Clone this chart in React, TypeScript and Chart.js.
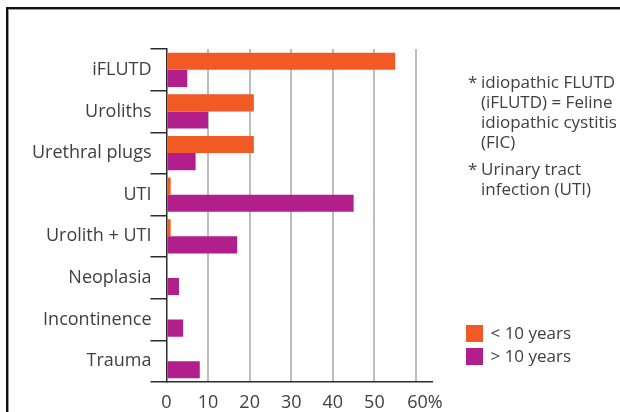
import React, { useEffect, useRef } from "react";
import { Chart, registerables } from "chart.js";
Chart.register(...registerables);

const categories = ["iFLUTD", "Uroliths", "Urethral plugs", "UTI", "Urolith + UTI", "Neoplasia", "Incontinence", "Trauma"];
const under10 = [55, 21, 21, 1, 1, 0, 0, 0];
const over10 = [5, 10, 7, 45, 17, 3, 4, 8];
const seriesNames = ["< 10 years", "> 10 years"];
const seriesColors = ["#F15A24", "#B31E8D"];
const xTicks = [0, 10, 20, 30, 40, 50, 60];
const xTickLabels = ["0", "10", "20", "30", "40", "50", "\u200360%"];
const note1 = ["idiopathic FLUTD", "(iFLUTD) = Feline", "idiopathic cystitis", "(FIC)"];
const note2 = ["Urinary tract", "infection (UTI)"];

const FONT = "'Open Sans', 'Noto Sans', sans-serif";
const TEXT = "#404040";

export default function App() {
  const ref = useRef<HTMLCanvasElement | null>(null);
  useEffect(() => {
    if (!ref.current) return;
    Chart.defaults.font.family = FONT;
    const chart = new Chart(ref.current, {
      type: "bar",
      data: {
        labels: categories,
        datasets: [
          { label: seriesNames[0], data: under10, backgroundColor: seriesColors[0], borderWidth: 0 },
          { label: seriesNames[1], data: over10, backgroundColor: seriesColors[1], borderWidth: 0 },
        ],
      },
      options: {
        indexAxis: "y",
        animation: false,
        responsive: false,
        categoryPercentage: 0.82,
        barPercentage: 1,
        layout: { padding: { top: 49, right: 38, bottom: 0, left: 0 } },
        plugins: { legend: { display: false }, tooltip: { enabled: false } },
        scales: {
          x: {
            type: "linear",
            min: 0,
            max: 63.85,
            afterBuildTicks: (axis: any) => {
              axis.ticks = xTicks.map((v) => ({ value: v }));
            },
            afterFit: (s: any) => {
              s.height = 30;
            },
            ticks: {
              callback: (v: any) => xTickLabels[xTicks.indexOf(Number(v))] ?? "",
              font: { size: 18, family: FONT },
              color: TEXT,
              padding: 10,
              autoSkip: false,
              maxRotation: 0,
            },
            grid: {
              drawTicks: false,
              color: (ctx: any) => (ctx.tick && ctx.tick.value === 0 ? "rgba(0,0,0,0)" : "#bdbdbd"),
              lineWidth: 2,
            },
            border: { display: true, color: "#2b2b2b", width: 1.5 },
          },
          y: {
            afterFit: (s: any) => {
              s.width = 166.5;
            },
            grid: {
              offset: true,
              drawOnChartArea: false,
              drawTicks: true,
              tickLength: 16,
              color: "#2b2b2b",
              lineWidth: 1.5,
            },
            border: { display: true, color: "#2b2b2b", width: 1.5 },
            ticks: {
              font: { size: 18, family: FONT },
              color: TEXT,
              padding: -1,
              autoSkip: false,
            },
          },
        },
      },
    });
    return () => chart.destroy();
  }, []);

  const noteStyle: React.CSSProperties = {
    position: "absolute",
    fontFamily: FONT,
    fontSize: 17,
    lineHeight: "20px",
    color: TEXT,
    whiteSpace: "nowrap",
  };

  return (
    <div style={{ position: "fixed", left: 0, top: 0, width: 620, height: 412, background: "#fff", overflow: "hidden" }}>
      <div
        style={{
          position: "absolute",
          left: 6,
          top: 7,
          width: 700,
          height: 500,
          borderTop: "2px solid #111",
          borderLeft: "2px solid #111",
          boxShadow: "inset 1px 1px 0 #9a9a9a",
        }}
      />
      <canvas ref={ref} width={470} height={412} style={{ position: "absolute", left: 0, top: 0, width: 470, height: 412 }} />
      <div style={{ ...noteStyle, left: 468, top: 72 }}>*</div>
      <div style={{ ...noteStyle, left: 481, top: 72 }}>
        {note1.map((t, i) => (
          <div key={i}>{t}</div>
        ))}
      </div>
      <div style={{ ...noteStyle, left: 468, top: 159 }}>*</div>
      <div style={{ ...noteStyle, left: 481, top: 159 }}>
        {note2.map((t, i) => (
          <div key={i}>{t}</div>
        ))}
      </div>
      {seriesNames.map((n, i) => (
        <React.Fragment key={n}>
          <div
            style={{
              position: "absolute",
              left: 466,
              top: 325 + i * 22.7,
              width: 17,
              height: 17,
              background: seriesColors[i],
            }}
          />
          <div style={{ ...noteStyle, left: 490.5, top: 323.3 + i * 22.7 }}>{n}</div>
        </React.Fragment>
      ))}
    </div>
  );
}
